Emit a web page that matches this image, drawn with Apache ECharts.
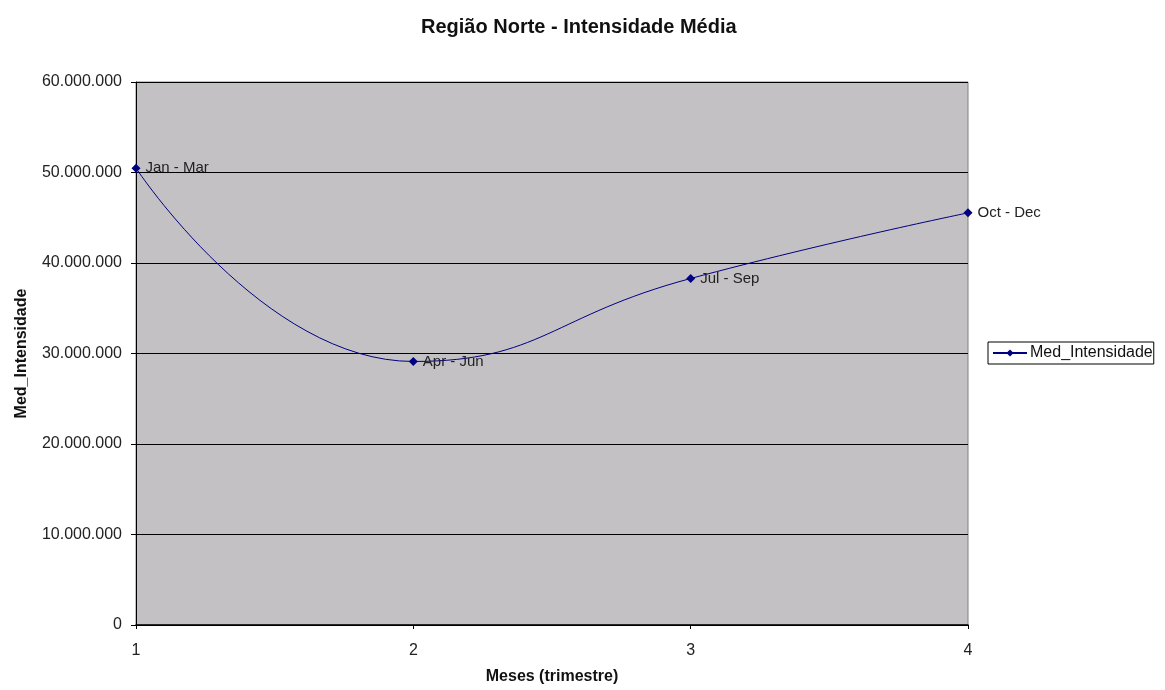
<!DOCTYPE html>
<html>
<head>
<meta charset="utf-8">
<script src="https://cdn.jsdelivr.net/npm/echarts@6/dist/echarts.min.js"></script>
<style>html,body{margin:0;padding:0;background:#fff}#c{width:1165px;height:690px}</style>
</head>
<body>
<div id="c"></div>
<script>
const titleText = 'Região Norte - Intensidade Média';
const seriesName = 'Med_Intensidade';
const xValues = [1, 2, 3, 4];
const quarterLabels = ['Jan - Mar', 'Apr - Jun', 'Jul - Sep', 'Oct - Dec'];
const medIntensidade = [50480000, 29120000, 38290000, 45540000];
const xAxisName = 'Meses (trimestre)';
const yAxisName = 'Med_Intensidade';

const font = 'Arial, "Liberation Sans", sans-serif';
function fmt(v) {
  return String(Math.round(v)).replace(/\B(?=(\d{3})+(?!\d))/g, '.');
}
const chart = echarts.init(document.getElementById('c'), null, {renderer: 'canvas'});
chart.setOption({
  animation: false,
  backgroundColor: '#ffffff',
  title: {
    text: titleText, left: 416, top: 12,
    textStyle: {fontFamily: font, fontSize: 20, fontWeight: 'bold', color: '#111'}
  },
  legend: {
    left: 988, top: 342, orient: 'vertical',
    padding: [3, 1, 3, 4],
    borderColor: '#000', borderWidth: 1,
    itemWidth: 34, itemHeight: 9, itemGap: 4,
    textStyle: {fontFamily: font, fontSize: 16, color: '#111', padding: [0, 0, 0, -2]},
    data: [seriesName]
  },
  grid: {
    left: 136, right: 197, top: 82, bottom: 62,
    show: true, backgroundColor: '#c4c1c5', borderColor: '#808080', borderWidth: 1
  },
  xAxis: {
    type: 'value', min: 1, max: 4, interval: 1,
    name: xAxisName, nameLocation: 'middle', nameGap: 44,
    nameTextStyle: {fontFamily: font, fontSize: 16, fontWeight: 'bold', color: '#111'},
    axisLine: {show: true, lineStyle: {color: '#000', width: 1.5}},
    axisTick: {show: true, length: 4, lineStyle: {color: '#000'}},
    axisLabel: {fontFamily: font, fontSize: 16, color: '#222', margin: 18},
    splitLine: {show: false}
  },
  yAxis: {
    type: 'value', min: 0, max: 60000000, interval: 10000000,
    name: yAxisName, nameLocation: 'middle', nameGap: 106, nameRotate: 90,
    nameTextStyle: {fontFamily: font, fontSize: 16, fontWeight: 'bold', color: '#111'},
    axisLine: {show: true, lineStyle: {color: '#000', width: 1}},
    axisTick: {show: true, length: 5, lineStyle: {color: '#000'}},
    axisLabel: {fontFamily: font, fontSize: 16, color: '#222', margin: 14, formatter: fmt},
    splitLine: {show: true, lineStyle: {color: '#000', width: 1}}
  },
  series: [{
    name: seriesName,
    type: 'line',
    smooth: 0.5,
    data: xValues.map((x, i) => [x, medIntensidade[i]]),
    symbol: 'diamond', symbolSize: 9,
    lineStyle: {color: '#000080', width: 1},
    itemStyle: {color: '#000080'},
    label: {
      show: true, position: 'right', distance: 5,
      fontFamily: font, fontSize: 15, color: '#222',
      formatter: p => quarterLabels[p.dataIndex]
    }
  }]
});
</script>
</body>
</html>
